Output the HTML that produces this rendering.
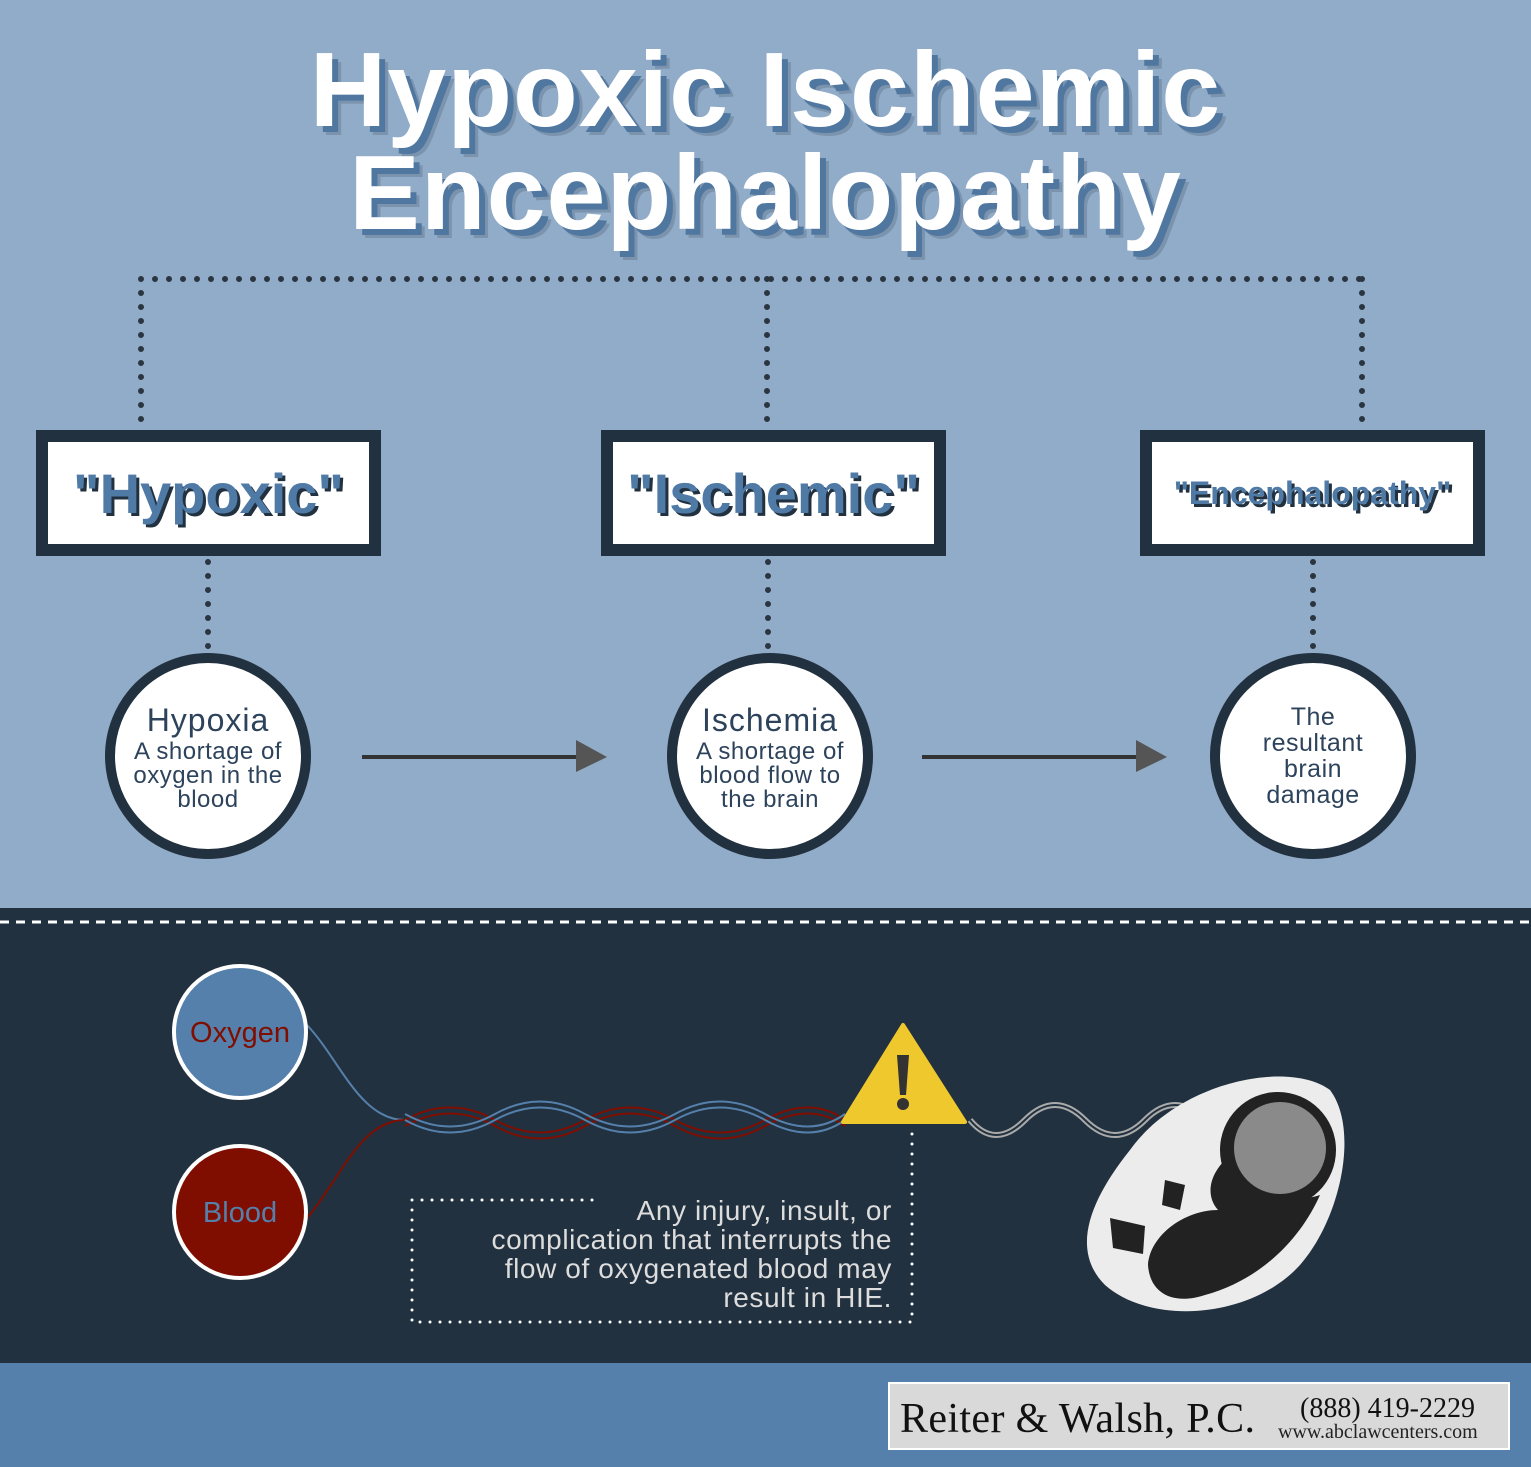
<!DOCTYPE html>
<html><head><meta charset="utf-8"><style>
*{margin:0;padding:0}
body{width:1531px;height:1467px;position:relative;overflow:hidden;background:#91acc8;font-family:"Liberation Sans",sans-serif}
.t{position:absolute;left:0;width:1531px;text-align:center;color:#fff;font-weight:bold;font-size:106px;letter-spacing:1px;text-shadow:6px 6px 0 #4f77a0,9px 9px 0 #22313f33}
.box{position:absolute;top:430px;width:321px;height:102px;border:12px solid #22313f;background:#fff;display:flex;align-items:center;justify-content:center;color:#4f7aa6;font-weight:bold;text-shadow:3px 3px 0 #22313f}
.c{position:absolute;width:186px;height:186px;border-radius:50%;border:10px solid #22313f;background:#fff;color:#2d435c;text-align:center;display:flex;flex-direction:column;align-items:center;justify-content:center;font-size:24px;line-height:24px;letter-spacing:0.5px}
.c b{font-weight:normal;font-size:32px;line-height:40px;letter-spacing:1px}
</style></head><body>
<div class="t" style="top:30px">Hypoxic Ischemic</div>
<div class="t" style="top:133px">Encephalopathy</div>
<svg style="position:absolute;left:0;top:0" width="1531" height="1467">
<g stroke="#2a3540" stroke-width="6" stroke-linecap="round" stroke-dasharray="0 14" fill="none">
<path d="M141 279H1362M141 279V425M767 279V425M1362 279V425M208 562V650M768 562V650M1313 562V650"/>
</g>
<g stroke="#333" stroke-width="4"><path d="M362 757H580M922 757H1140"/></g>
<path d="M576 740L607 757L576 772Z" fill="#555"/><path d="M1136 740L1167 757L1136 772Z" fill="#555"/>
<rect x="0" y="908" width="1531" height="456" fill="#22313f"/>
<path d="M0 922H1531" stroke="#fff" stroke-width="3" stroke-dasharray="9 7"/>
<rect x="0" y="1363" width="1531" height="104" fill="#5580ab"/>
<path d="M307 1025C340 1060 360 1120 405 1120" stroke="#5580ab" stroke-width="2" fill="none"/>
<path d="M307 1218C340 1180 360 1120 405 1120" stroke="#7f0e00" stroke-width="2" fill="none"/>
<g fill="none" stroke-width="2">
<path d="M405 1120q45-25 90 0t90 0t90 0t90 0t80 0" stroke="#7f0e00"/><path d="M405 1126q45-25 90 0t90 0t90 0t90 0t80 0" stroke="#7f0e00"/>
<path d="M405 1120q45 25 90 0t90 0t90 0t90 0t80 0" stroke="#5580ab"/><path d="M405 1114q45 25 90 0t90 0t90 0t90 0t80 0" stroke="#5580ab"/>
<path d="M970 1120q25 30 55 0t60 0t60 0t60 0t60 0" stroke="#aaa" stroke-width="6"/><path d="M970 1120q25 30 55 0t60 0t60 0t60 0t60 0" stroke="#22313f" stroke-width="2"/>
</g>
<circle cx="240" cy="1032" r="66" fill="#5580ab" stroke="#fff" stroke-width="4"/>
<circle cx="240" cy="1212" r="66" fill="#7f0e00" stroke="#fff" stroke-width="4"/>
<text x="240" y="1042" fill="#7f0e00" font-size="29" text-anchor="middle" font-family="Liberation Sans">Oxygen</text>
<text x="240" y="1222" fill="#5580ab" font-size="29" text-anchor="middle" font-family="Liberation Sans">Blood</text>
<path d="M903 1025L965 1122H843Z" fill="#eec82c" stroke="#eec82c" stroke-width="4" stroke-linejoin="round"/>
<path d="M897 1055h12l-3 40h-6z" fill="#333"/><circle cx="903" cy="1104" r="6" fill="#333"/>
<path d="M412 1200H598M412 1200V1322H912V1128" stroke="#fff" stroke-width="3" stroke-linecap="round" stroke-dasharray="0 10" fill="none"/>
<path d="M1130 1150C1180 1080 1290 1060 1330 1090C1360 1130 1340 1220 1300 1265C1250 1320 1150 1325 1105 1285C1070 1250 1090 1200 1130 1150Z" fill="#ececec"/>
<circle cx="1278" cy="1150" r="58" fill="#222"/><circle cx="1280" cy="1148" r="46" fill="#8a8a8a"/>
<path d="M1225 1160C1210 1175 1205 1195 1218 1210C1185 1210 1150 1235 1148 1265C1150 1295 1175 1305 1205 1295C1260 1280 1300 1240 1320 1195C1290 1205 1250 1195 1225 1160Z" fill="#222"/>
<path d="M1110 1218l35 8l-2 28l-30 -6z" fill="#222"/>
<path d="M1165 1180l20 5l-5 25l-18-5z" fill="#222"/>
<rect x="889" y="1383" width="620" height="66" fill="#d9d9d9" stroke="#fff" stroke-width="2"/>
<text x="900" y="1432" font-family="Liberation Serif" font-size="42" fill="#111" textLength="355">Reiter &amp; Walsh, P.C.</text>
<text x="1300" y="1417" font-family="Liberation Serif" font-size="28" fill="#111">(888) 419-2229</text>
<text x="1278" y="1438" font-family="Liberation Serif" font-size="20" fill="#222">www.abclawcenters.com</text>
</svg>
<div class="box" style="left:36px;font-size:56px">"Hypoxic"</div>
<div class="box" style="left:601px;font-size:56px">"Ischemic"</div>
<div class="box" style="left:1140px;font-size:32px">"Encephalopathy"</div>
<div class="c" style="left:105px;top:653px"><b>Hypoxia</b>A shortage of<br>oxygen in the<br>blood</div>
<div class="c" style="left:667px;top:653px"><b>Ischemia</b>A shortage of<br>blood flow to<br>the brain</div>
<div class="c" style="left:1210px;top:653px;font-size:25px;line-height:26px">The<br>resultant<br>brain<br>damage</div>
<div style="position:absolute;left:412px;top:1196px;width:480px;text-align:right;color:#ddd;font-size:28px;line-height:29px;letter-spacing:0.6px">Any injury, insult, or<br>complication that interrupts the<br>flow of oxygenated blood may<br>result in HIE.</div>
</body></html>
